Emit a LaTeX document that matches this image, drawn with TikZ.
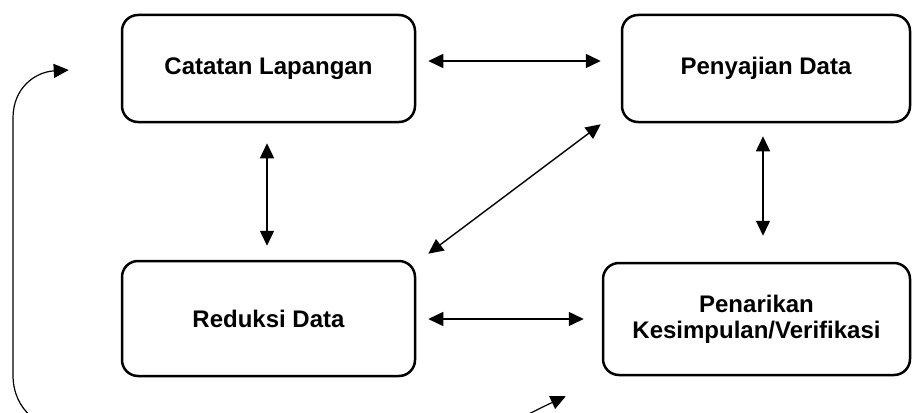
\documentclass[tikz,border=0pt]{standalone}
\usepackage{fontspec}
\setmainfont{Liberation Sans}
\usetikzlibrary{arrows.meta,calc}
\tikzset{
  box/.style={draw=black, line width=2.5pt, rounded corners=16pt, align=center,
    font=\fontsize{24}{26}\selectfont\bfseries, inner sep=0pt},
  biarrow/.style={line width=1.4pt, {Triangle[length=15pt,width=14pt]}-{Triangle[length=15pt,width=14pt]}},
  loopline/.style={line width=1.2pt, {Triangle[length=15pt,width=14pt]}-{Triangle[length=15pt,width=14pt]}}
}
\begin{document}
\begin{tikzpicture}[x=1pt,y=-1pt]
\useasboundingbox (0,0) rectangle (912,412);
\clip (0,0) rectangle (912,412);
\node[box, minimum width=293pt, minimum height=107pt] (cl) at (268.5,68.5) {Catatan Lapangan};
\node[box, minimum width=288pt, minimum height=107pt] (pd) at (766,68.5) {Penyajian Data};
\node[box, minimum width=293pt, minimum height=115pt] (rd) at (268.5,318.5) {Reduksi Data};
\node[box, minimum width=307pt, minimum height=112pt] (pk) at (756.5,319) {Penarikan\\Kesimpulan/Verifikasi};
% connectors
\draw[biarrow] ($(cl.east)+(12,-7.5)$) -- ($(pd.west)+(-20,-7.5)$);
\draw[biarrow] ($(cl.south)+(-1.5,20)$) -- ($(rd.north)+(-1.5,-14)$);
\draw[biarrow] ($(pd.south)+(-3,13)$) -- ($(pk.north)+(6.5,-26)$);
\draw[biarrow] ($(rd.north east)+(12,-6)$) -- ($(pd.south west)+(-20,1)$);
\draw[biarrow] ($(rd.east)+(12,0.5)$) -- ($(pk.west)+(-18,0)$);
% loop from Penarikan back to Catatan
\coordinate (la) at ($(cl.west)+(-52,1.5)$);
\coordinate (lb) at ($(pk.south west)+(-36,20)$);
\draw[loopline] (la) .. controls (35,72) and (13,88) .. (13,118)
  -- (13,375) .. controls (13,410) and (40,432) .. (80,434)
  -- (460,434) .. controls (495,434) and (525,415) .. (lb);
\end{tikzpicture}
\end{document}
